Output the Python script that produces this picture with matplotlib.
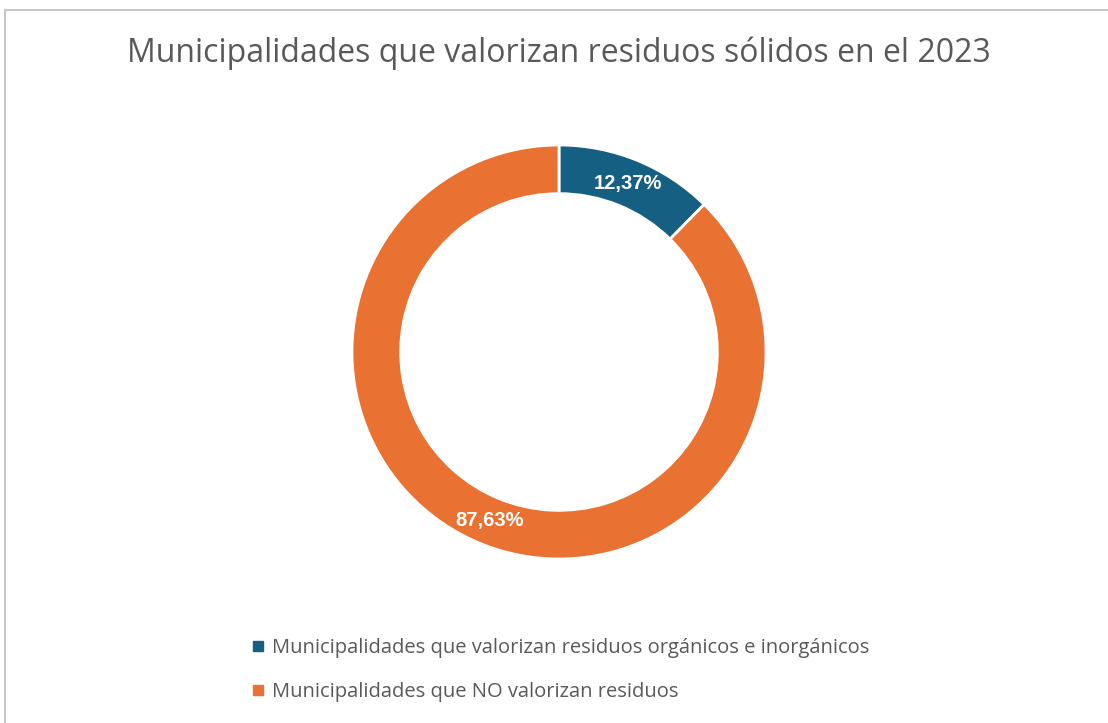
import matplotlib.pyplot as plt
from matplotlib.lines import Line2D
from matplotlib.patches import Rectangle

categories = [
    "Municipalidades que valorizan residuos orgánicos e inorgánicos",
    "Municipalidades que NO valorizan residuos",
]
shares = [12.37, 87.63]
colors = ["#156082", "#E97132"]
title = "Municipalidades que valorizan residuos sólidos en el 2023"

W, H = 1108, 723
fig = plt.figure(figsize=(W / 100, H / 100), dpi=100)
plt.rcParams["font.family"] = ["Open Sans", "DejaVu Sans"]

# light grey frame (cut by the right and bottom edges)
fig.patches.append(Rectangle((5 / W, -0.1), 1.2, (H - 10) / H + 0.1, transform=fig.transFigure,
                             fill=False, edgecolor="#c8c8c8", linewidth=1.5))

cx, cy, r = 559, 352, 207
ax = fig.add_axes([(cx - r) / W, (H - cy - r) / H, 2 * r / W, 2 * r / H])
wedges, _, autotexts = ax.pie(
    shares,
    colors=colors,
    startangle=90,
    counterclock=False,
    radius=1.0,
    wedgeprops=dict(width=0.235, edgecolor="white", linewidth=2),
    autopct=lambda p: f"{p:.2f}%".replace(".", ","),
    pctdistance=0.88,
    textprops=dict(color="white", fontsize=14.5, fontweight="bold",
                   family=["Liberation Sans", "DejaVu Sans"]),
)
ax.set_xlim(-1, 1)
ax.set_ylim(-1, 1)
ax.set_aspect("auto")
ax.axis("off")

fig.text(cx / W, 1 - 53 / H, title, ha="center", va="center", fontsize=23, color="#595959")

handles = [Line2D([], [], marker="s", linestyle="none", markersize=7, color=c) for c in colors]
fig.legend(handles, categories, loc="upper left", bbox_to_anchor=(244 / W, 1 - 630 / H),
           frameon=False, fontsize=14.5, labelcolor="#595959", handlelength=0.6,
           handletextpad=0.4, labelspacing=1.2, borderaxespad=0)

fig.savefig("out.png", dpi=100)
